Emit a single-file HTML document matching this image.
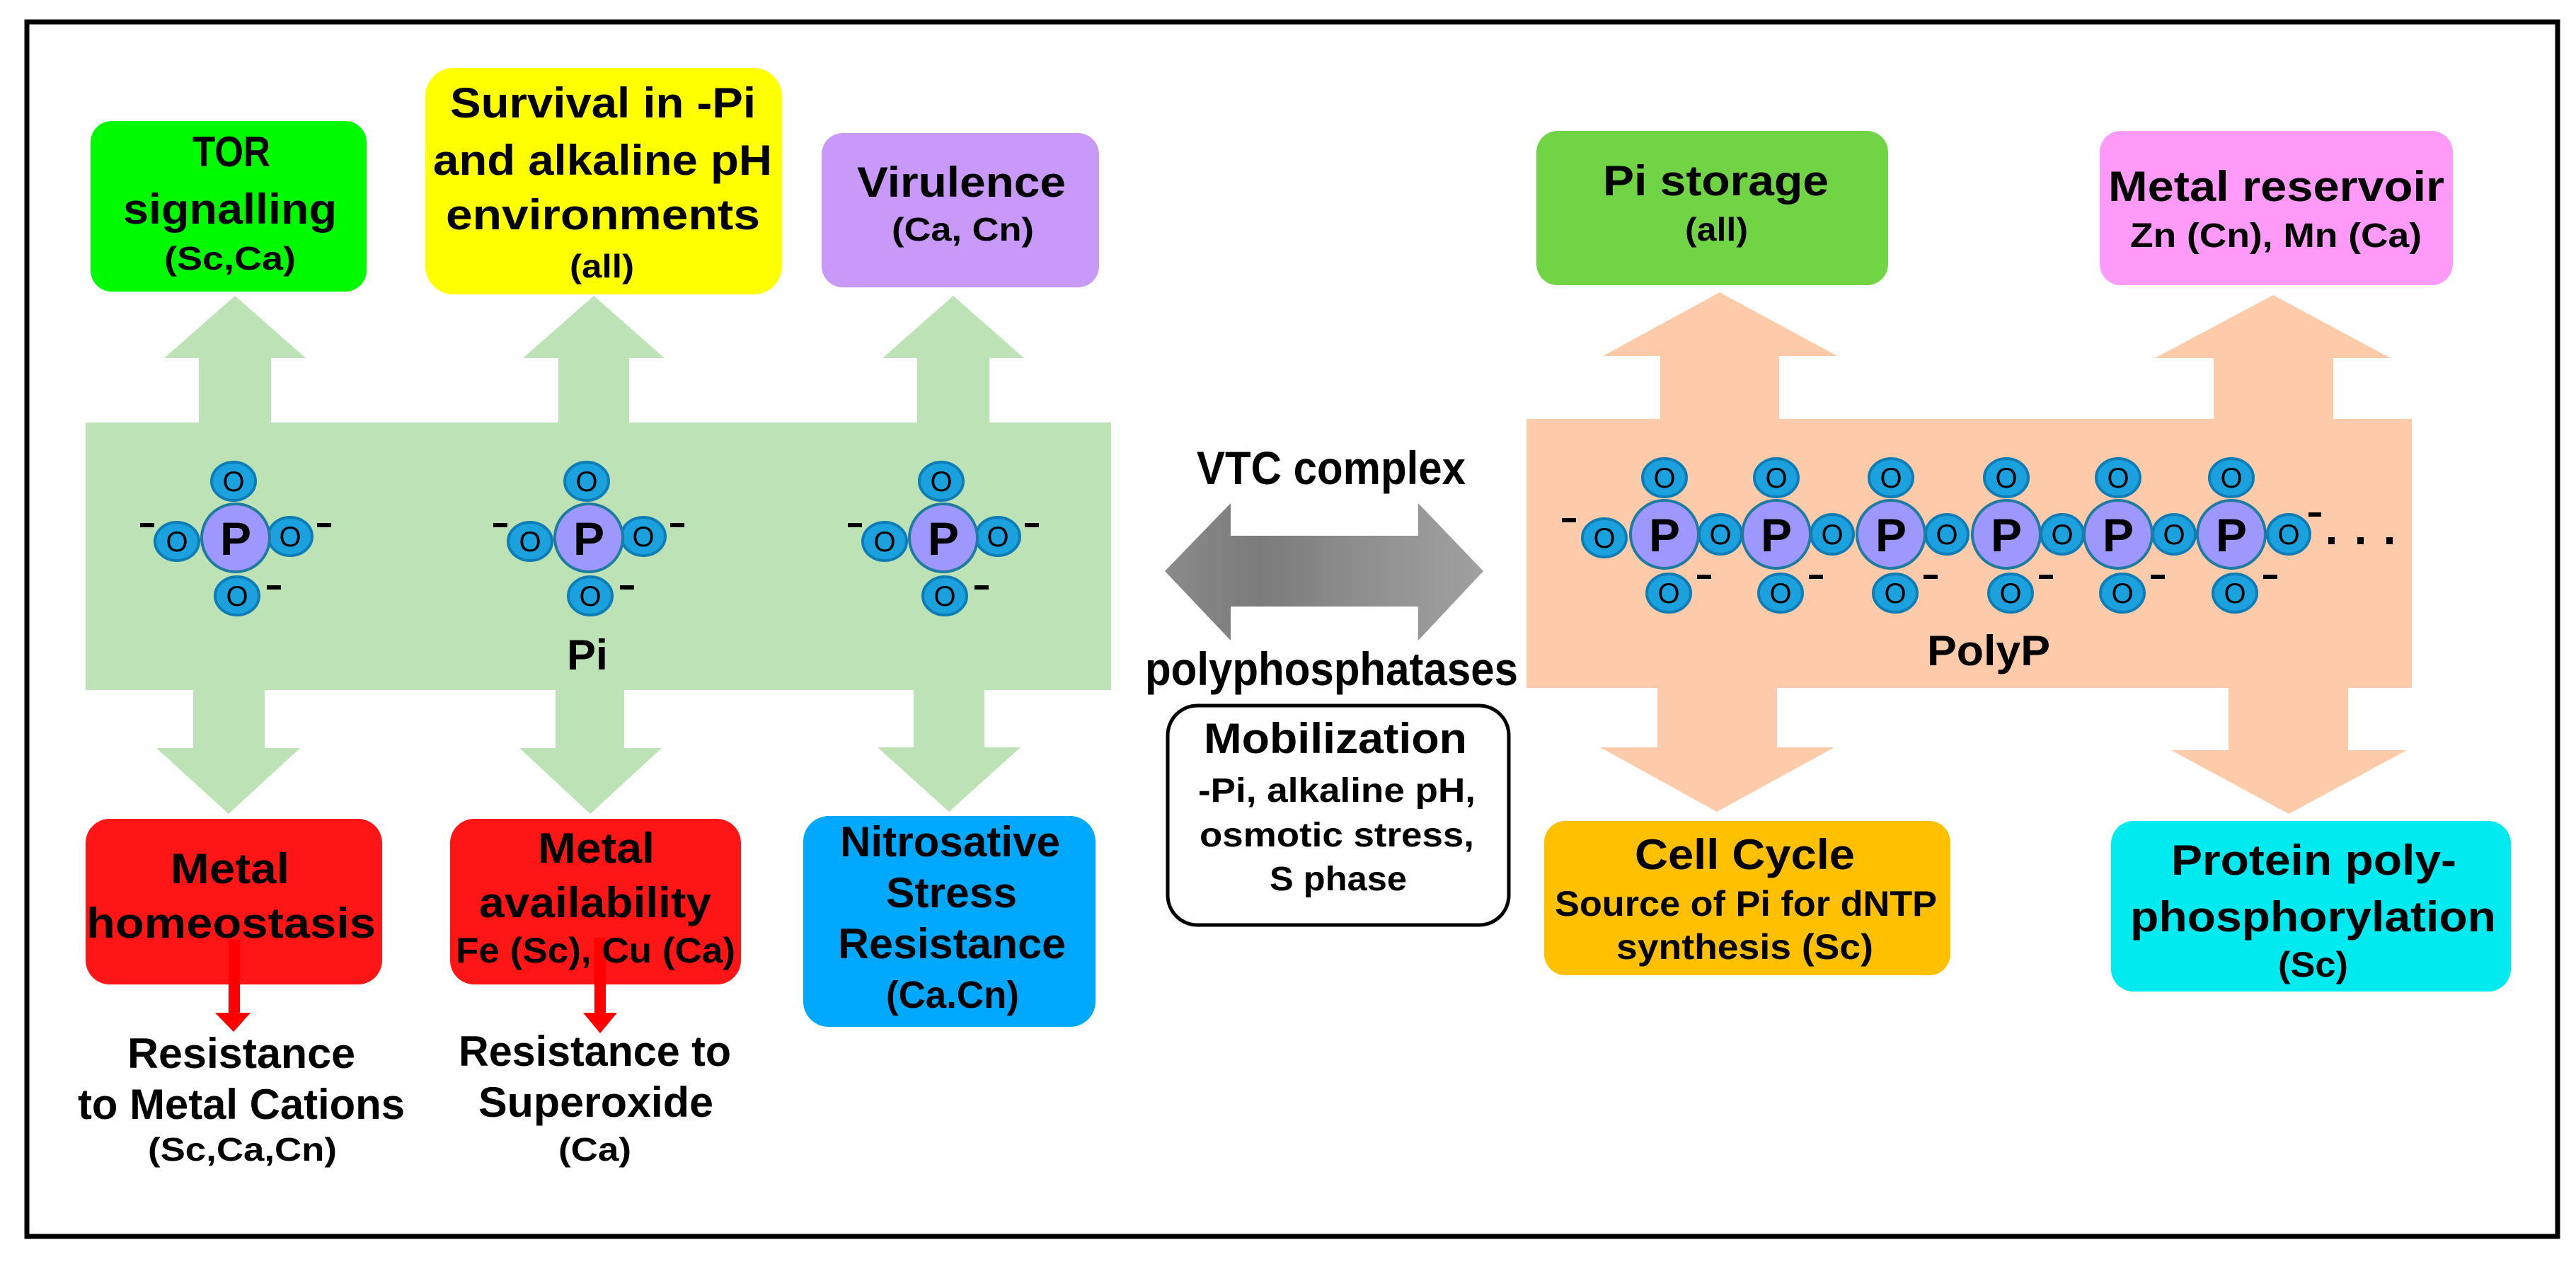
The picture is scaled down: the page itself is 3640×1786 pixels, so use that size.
<!DOCTYPE html>
<html><head><meta charset="utf-8"><style>
html,body{margin:0;padding:0;background:#fff;}
svg{display:block;}
text{font-family:"Liberation Sans",Arial,sans-serif;font-weight:bold;fill:#000;}
.o{font-weight:normal;font-size:40px;}
.p{font-size:66px;}
</style></head><body>
<svg width="3640" height="1786" viewBox="0 0 3640 1786" xmlns="http://www.w3.org/2000/svg">
<defs>
<linearGradient id="g" x1="0" x2="1" y1="0" y2="0">
<stop offset="0" stop-color="#8a8a8a"/><stop offset="0.3" stop-color="#7b7b7b"/><stop offset="0.7" stop-color="#939393"/><stop offset="1" stop-color="#a0a0a0"/>
</linearGradient>
</defs>
<rect x="0" y="0" width="3640" height="1786" fill="#fff"/>
<rect x="38" y="31" width="3576" height="1716" fill="none" stroke="#000" stroke-width="7"/>

<!-- Green Pi region -->
<rect x="121" y="597" width="1449" height="378" fill="#bce2b6"/>
<g fill="#bce2b6">
<polygon points="281,600 281,506 232,506 332,418 432,506 383,506 383,600"/>
<polygon points="789,600 789,506 739,506 839,418 939,506 889,506 889,600"/>
<polygon points="1296,600 1296,506 1247,506 1347,418 1447,506 1398,506 1398,600"/>
<polygon points="273,970 273,1057 221,1057 323,1150 424,1057 374,1057 374,970"/>
<polygon points="785,970 785,1057 734,1057 834,1150 935,1057 882,1057 882,970"/>
<polygon points="1291,970 1291,1056 1240,1056 1341,1147 1442,1056 1391,1056 1391,970"/>
</g>

<!-- Orange PolyP region -->
<rect x="2157" y="592" width="1251" height="380" fill="#fecbaa"/>
<g fill="#fecbaa">
<polygon points="2346,595 2346,503 2265,503 2430,413 2596,503 2514,503 2514,595"/>
<polygon points="3128,595 3128,506 3045,506 3212,417 3378,506 3297,506 3297,595"/>
<polygon points="2342,968 2342,1056 2261,1056 2426,1147 2592,1056 2511,1056 2511,968"/>
<polygon points="3149,968 3149,1060 3068,1060 3234,1150 3401,1060 3318,1060 3318,968"/>
</g>

<!-- Top boxes -->
<rect x="128" y="171" width="390" height="241" rx="30" fill="#00fa00"/>
<rect x="601" y="96" width="504" height="320" rx="40" fill="#ffff00"/>
<rect x="1161" y="188" width="392" height="218" rx="30" fill="#c899f9"/>
<rect x="2171" y="185" width="497" height="218" rx="30" fill="#71d444"/>
<rect x="2967" y="185" width="499" height="218" rx="30" fill="#ff9af9"/>
<!-- Bottom boxes -->
<rect x="121" y="1157" width="419" height="234" rx="34" fill="#fe1616"/>
<rect x="636" y="1157" width="411" height="234" rx="34" fill="#fe1616"/>
<rect x="1135" y="1153" width="413" height="298" rx="36" fill="#00a8fe"/>
<rect x="2182" y="1160" width="574" height="218" rx="30" fill="#ffc000"/>
<rect x="2983" y="1160" width="565" height="241" rx="32" fill="#00eaf0"/>
<rect x="1650" y="997" width="482" height="310" rx="42" fill="#fff" stroke="#000" stroke-width="5"/>

<!-- Double arrow -->
<polygon points="1646,807 1739,711 1739,757 2004,757 2004,711 2096,807 2004,905 2004,857 1739,857 1739,905" fill="url(#g)"/>

<!-- Red arrows -->
<g fill="#ff0000">
<rect x="323" y="1328" width="16" height="105"/>
<polygon points="304,1431 354,1431 330,1458"/>
<rect x="840" y="1325" width="16" height="108"/>
<polygon points="824,1431 872,1431 848,1460"/>
</g>

<!-- Box texts -->
<g font-size="60">
<text x="272" y="235" textLength="110" lengthAdjust="spacingAndGlyphs">TOR</text>
<text x="174" y="316" textLength="302" lengthAdjust="spacingAndGlyphs">signalling</text>
<text x="232" y="381" font-size="46" textLength="186" lengthAdjust="spacingAndGlyphs">(Sc,Ca)</text>

<text x="636" y="166" textLength="432" lengthAdjust="spacingAndGlyphs">Survival in -Pi</text>
<text x="612" y="247" textLength="479" lengthAdjust="spacingAndGlyphs">and alkaline pH</text>
<text x="630" y="324" textLength="444" lengthAdjust="spacingAndGlyphs">environments</text>
<text x="805" y="392" font-size="46" textLength="91" lengthAdjust="spacingAndGlyphs">(all)</text>

<text x="1211" y="278" textLength="295" lengthAdjust="spacingAndGlyphs">Virulence</text>
<text x="1260" y="340" font-size="46" textLength="201" lengthAdjust="spacingAndGlyphs">(Ca, Cn)</text>

<text x="2265" y="276" textLength="319" lengthAdjust="spacingAndGlyphs">Pi storage</text>
<text x="2381" y="340" font-size="46" textLength="89" lengthAdjust="spacingAndGlyphs">(all)</text>

<text x="2979" y="284" textLength="475" lengthAdjust="spacingAndGlyphs">Metal reservoir</text>
<text x="3010" y="349" font-size="48" textLength="412" lengthAdjust="spacingAndGlyphs">Zn (Cn), Mn (Ca)</text>

<text x="241" y="1248" textLength="168" lengthAdjust="spacingAndGlyphs">Metal</text>
<text x="122" y="1325" textLength="409" lengthAdjust="spacingAndGlyphs">homeostasis</text>

<text x="760" y="1219" textLength="165" lengthAdjust="spacingAndGlyphs">Metal</text>
<text x="677" y="1296" textLength="328" lengthAdjust="spacingAndGlyphs">availability</text>
<text x="644" y="1360" font-size="50" textLength="395" lengthAdjust="spacingAndGlyphs">Fe (Sc), Cu (Ca)</text>

<text x="1187" y="1210" textLength="311" lengthAdjust="spacingAndGlyphs">Nitrosative</text>
<text x="1252" y="1282" textLength="185" lengthAdjust="spacingAndGlyphs">Stress</text>
<text x="1184" y="1354" textLength="322" lengthAdjust="spacingAndGlyphs">Resistance</text>
<text x="1252" y="1424" font-size="54" textLength="188" lengthAdjust="spacingAndGlyphs">(Ca.Cn)</text>

<text x="180" y="1509" textLength="322" lengthAdjust="spacingAndGlyphs">Resistance</text>
<text x="110" y="1581" textLength="462" lengthAdjust="spacingAndGlyphs">to Metal Cations</text>
<text x="209" y="1640" font-size="46" textLength="267" lengthAdjust="spacingAndGlyphs">(Sc,Ca,Cn)</text>

<text x="648" y="1506" textLength="385" lengthAdjust="spacingAndGlyphs">Resistance to</text>
<text x="676" y="1578" textLength="332" lengthAdjust="spacingAndGlyphs">Superoxide</text>
<text x="789" y="1640" font-size="46" textLength="103" lengthAdjust="spacingAndGlyphs">(Ca)</text>

<text x="2310" y="1228" textLength="311" lengthAdjust="spacingAndGlyphs">Cell Cycle</text>
<text x="2197" y="1294" font-size="50" textLength="540" lengthAdjust="spacingAndGlyphs">Source of Pi for dNTP</text>
<text x="2284" y="1355" font-size="50" textLength="363" lengthAdjust="spacingAndGlyphs">synthesis  (Sc)</text>

<text x="3068" y="1236" textLength="403" lengthAdjust="spacingAndGlyphs">Protein poly-</text>
<text x="3010" y="1316" textLength="517" lengthAdjust="spacingAndGlyphs">phosphorylation</text>
<text x="3219" y="1380" font-size="50" textLength="99" lengthAdjust="spacingAndGlyphs">(Sc)</text>

<text x="1701" y="1064" textLength="372" lengthAdjust="spacingAndGlyphs">Mobilization</text>
<text x="1693" y="1133" font-size="48" textLength="392" lengthAdjust="spacingAndGlyphs">-Pi, alkaline pH,</text>
<text x="1695" y="1196" font-size="48" textLength="388" lengthAdjust="spacingAndGlyphs">osmotic stress,</text>
<text x="1794" y="1258" font-size="48" textLength="194" lengthAdjust="spacingAndGlyphs">S phase</text>

<text x="801" y="946" textLength="58" lengthAdjust="spacingAndGlyphs">Pi</text>
<text x="2723" y="940" textLength="174" lengthAdjust="spacingAndGlyphs">PolyP</text>

<text x="1691" y="684" font-size="66" textLength="380" lengthAdjust="spacingAndGlyphs">VTC complex</text>
<text x="1618" y="968" font-size="66" textLength="527" lengthAdjust="spacingAndGlyphs">polyphosphatases</text>
</g>

<!-- Pi molecules -->
<g id="pi1">
<g fill="#1ba1de" stroke="#0e7db5" stroke-width="4">
<ellipse cx="330" cy="680" rx="31" ry="27"/>
<ellipse cx="250" cy="765" rx="31" ry="27"/>
<ellipse cx="410" cy="758" rx="31" ry="27"/>
<ellipse cx="335" cy="842" rx="31" ry="27"/>
<circle cx="333" cy="760" r="48" fill="#9e98fe" stroke="#1f7ca0"/>
</g>
<g class="o" text-anchor="middle">
<text class="o" x="330" y="694">O</text><text class="o" x="250" y="779">O</text><text class="o" x="410" y="772">O</text><text class="o" x="335" y="856">O</text>
</g>
<text class="p" x="333" y="784" text-anchor="middle">P</text>
<rect x="198" y="739" width="20" height="6"/><rect x="448" y="739" width="20" height="6"/><rect x="377" y="827" width="20" height="6"/>
</g>
<use href="#pi1" x="499" y="0"/>
<use href="#pi1" x="1000" y="0"/>

<!-- PolyP -->
<g id="pu">
<g fill="#1ba1de" stroke="#0e7db5" stroke-width="4">
<ellipse cx="2352" cy="675" rx="31" ry="27"/>
<ellipse cx="2358" cy="838" rx="31" ry="27"/>
<ellipse cx="2431" cy="755" rx="30" ry="28"/>
<circle cx="2352" cy="755" r="48" fill="#9e98fe" stroke="#1f7ca0"/>
</g>
<text class="o" x="2352" y="689" text-anchor="middle">O</text>
<text class="o" x="2358" y="852" text-anchor="middle">O</text>
<text class="o" x="2431" y="769" text-anchor="middle">O</text>
<text class="p" x="2352" y="779" text-anchor="middle">P</text>
<rect x="2398" y="812" width="20" height="6"/>
</g>
<use href="#pu" x="158" y="0"/>
<use href="#pu" x="320" y="0"/>
<use href="#pu" x="483" y="0"/>
<use href="#pu" x="641" y="0"/>
<ellipse cx="2267" cy="760" rx="31" ry="27" fill="#1ba1de" stroke="#0e7db5" stroke-width="4"/>
<text class="o" x="2267" y="774" text-anchor="middle">O</text>
<rect x="2207" y="732" width="20" height="6"/>
<!-- last unit -->
<g fill="#1ba1de" stroke="#0e7db5" stroke-width="4">
<ellipse cx="3153" cy="675" rx="31" ry="27"/>
<ellipse cx="3158" cy="838" rx="31" ry="27"/>
<ellipse cx="3234" cy="755" rx="30" ry="28"/>
<circle cx="3153" cy="755" r="48" fill="#9e98fe" stroke="#1f7ca0"/>
</g>
<text class="o" x="3153" y="689" text-anchor="middle">O</text>
<text class="o" x="3158" y="852" text-anchor="middle">O</text>
<text class="o" x="3234" y="769" text-anchor="middle">O</text>
<text class="p" x="3153" y="779" text-anchor="middle">P</text>
<rect x="3198" y="812" width="20" height="6"/>
<rect x="3262" y="724" width="18" height="6"/>
<rect x="3290" y="759" width="9" height="10"/><rect x="3331" y="759" width="9" height="10"/><rect x="3372" y="759" width="9" height="10"/>
</svg>
</body></html>
